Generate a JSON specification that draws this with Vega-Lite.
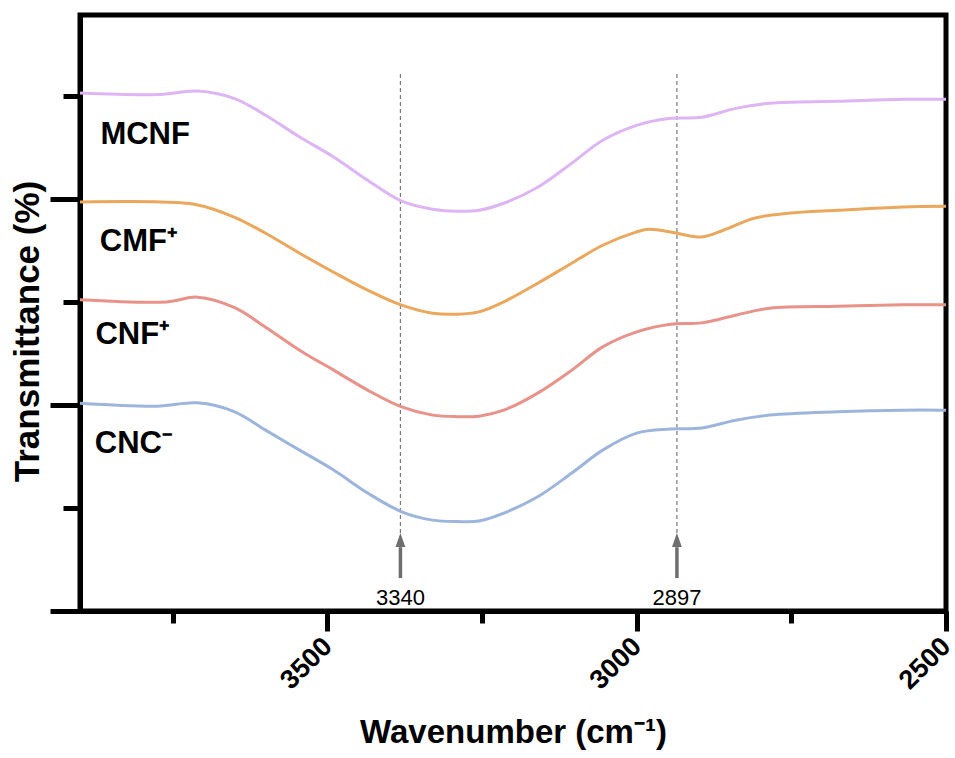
{
  "$schema": "https://vega.github.io/schema/vega-lite/v6.json",
  "width": 866,
  "height": 596,
  "autosize": {"type": "none"},
  "padding": {"left": 80, "top": 15, "right": 9, "bottom": 147},
  "background": "white",
  "config": {"font": "Liberation Sans", "view": {"stroke": "black", "strokeWidth": 5}},
  "datasets": {
    "spectra": [
      {"sample": "MCNF", "wn": 3900, "val": 5.032}, {"sample": "MCNF", "wn": 3775, "val": 5.017}, {"sample": "MCNF", "wn": 3710, "val": 5.051}, {"sample": "MCNF", "wn": 3650, "val": 4.978}, {"sample": "MCNF", "wn": 3600, "val": 4.816}, {"sample": "MCNF", "wn": 3545, "val": 4.605}, {"sample": "MCNF", "wn": 3490, "val": 4.411}, {"sample": "MCNF", "wn": 3435, "val": 4.184}, {"sample": "MCNF", "wn": 3380, "val": 3.981}, {"sample": "MCNF", "wn": 3330, "val": 3.903}, {"sample": "MCNF", "wn": 3290, "val": 3.883}, {"sample": "MCNF", "wn": 3255, "val": 3.893}, {"sample": "MCNF", "wn": 3215, "val": 3.961}, {"sample": "MCNF", "wn": 3160, "val": 4.117}, {"sample": "MCNF", "wn": 3105, "val": 4.35}, {"sample": "MCNF", "wn": 3055, "val": 4.573}, {"sample": "MCNF", "wn": 3000, "val": 4.718}, {"sample": "MCNF", "wn": 2945, "val": 4.786}, {"sample": "MCNF", "wn": 2895, "val": 4.796}, {"sample": "MCNF", "wn": 2840, "val": 4.883}, {"sample": "MCNF", "wn": 2785, "val": 4.932}, {"sample": "MCNF", "wn": 2675, "val": 4.951}, {"sample": "MCNF", "wn": 2570, "val": 4.971}, {"sample": "MCNF", "wn": 2500, "val": 4.971},
      {"sample": "CMF+", "wn": 3900, "val": 3.974}, {"sample": "CMF+", "wn": 3770, "val": 3.974}, {"sample": "CMF+", "wn": 3715, "val": 3.951}, {"sample": "CMF+", "wn": 3650, "val": 3.825}, {"sample": "CMF+", "wn": 3600, "val": 3.67}, {"sample": "CMF+", "wn": 3545, "val": 3.476}, {"sample": "CMF+", "wn": 3490, "val": 3.291}, {"sample": "CMF+", "wn": 3435, "val": 3.117}, {"sample": "CMF+", "wn": 3380, "val": 2.971}, {"sample": "CMF+", "wn": 3330, "val": 2.893}, {"sample": "CMF+", "wn": 3290, "val": 2.883}, {"sample": "CMF+", "wn": 3255, "val": 2.906}, {"sample": "CMF+", "wn": 3215, "val": 3.003}, {"sample": "CMF+", "wn": 3160, "val": 3.184}, {"sample": "CMF+", "wn": 3105, "val": 3.379}, {"sample": "CMF+", "wn": 3055, "val": 3.553}, {"sample": "CMF+", "wn": 3000, "val": 3.683}, {"sample": "CMF+", "wn": 2980, "val": 3.709}, {"sample": "CMF+", "wn": 2935, "val": 3.67}, {"sample": "CMF+", "wn": 2895, "val": 3.634}, {"sample": "CMF+", "wn": 2860, "val": 3.699}, {"sample": "CMF+", "wn": 2810, "val": 3.816}, {"sample": "CMF+", "wn": 2755, "val": 3.864}, {"sample": "CMF+", "wn": 2675, "val": 3.893}, {"sample": "CMF+", "wn": 2570, "val": 3.925}, {"sample": "CMF+", "wn": 2500, "val": 3.932},
      {"sample": "CNF+", "wn": 3900, "val": 3.024}, {"sample": "CNF+", "wn": 3760, "val": 3.003}, {"sample": "CNF+", "wn": 3710, "val": 3.049}, {"sample": "CNF+", "wn": 3650, "val": 2.947}, {"sample": "CNF+", "wn": 3600, "val": 2.757}, {"sample": "CNF+", "wn": 3545, "val": 2.534}, {"sample": "CNF+", "wn": 3490, "val": 2.34}, {"sample": "CNF+", "wn": 3435, "val": 2.146}, {"sample": "CNF+", "wn": 3380, "val": 1.983}, {"sample": "CNF+", "wn": 3330, "val": 1.903}, {"sample": "CNF+", "wn": 3290, "val": 1.888}, {"sample": "CNF+", "wn": 3255, "val": 1.893}, {"sample": "CNF+", "wn": 3215, "val": 1.951}, {"sample": "CNF+", "wn": 3160, "val": 2.117}, {"sample": "CNF+", "wn": 3105, "val": 2.34}, {"sample": "CNF+", "wn": 3055, "val": 2.566}, {"sample": "CNF+", "wn": 3000, "val": 2.712}, {"sample": "CNF+", "wn": 2945, "val": 2.786}, {"sample": "CNF+", "wn": 2895, "val": 2.799}, {"sample": "CNF+", "wn": 2840, "val": 2.874}, {"sample": "CNF+", "wn": 2785, "val": 2.942}, {"sample": "CNF+", "wn": 2675, "val": 2.961}, {"sample": "CNF+", "wn": 2570, "val": 2.974}, {"sample": "CNF+", "wn": 2500, "val": 2.974},
      {"sample": "CNC-", "wn": 3900, "val": 2.019}, {"sample": "CNC-", "wn": 3775, "val": 1.99}, {"sample": "CNC-", "wn": 3710, "val": 2.022}, {"sample": "CNC-", "wn": 3650, "val": 1.935}, {"sample": "CNC-", "wn": 3600, "val": 1.757}, {"sample": "CNC-", "wn": 3545, "val": 1.563}, {"sample": "CNC-", "wn": 3490, "val": 1.369}, {"sample": "CNC-", "wn": 3435, "val": 1.146}, {"sample": "CNC-", "wn": 3380, "val": 0.964}, {"sample": "CNC-", "wn": 3330, "val": 0.883}, {"sample": "CNC-", "wn": 3290, "val": 0.869}, {"sample": "CNC-", "wn": 3255, "val": 0.874}, {"sample": "CNC-", "wn": 3215, "val": 0.951}, {"sample": "CNC-", "wn": 3160, "val": 1.11}, {"sample": "CNC-", "wn": 3105, "val": 1.34}, {"sample": "CNC-", "wn": 3055, "val": 1.563}, {"sample": "CNC-", "wn": 3000, "val": 1.728}, {"sample": "CNC-", "wn": 2945, "val": 1.767}, {"sample": "CNC-", "wn": 2895, "val": 1.777}, {"sample": "CNC-", "wn": 2840, "val": 1.854}, {"sample": "CNC-", "wn": 2785, "val": 1.903}, {"sample": "CNC-", "wn": 2675, "val": 1.935}, {"sample": "CNC-", "wn": 2570, "val": 1.951}, {"sample": "CNC-", "wn": 2500, "val": 1.951}
    ],
    "peaks": [
      {"wn": 3382, "label": "3340"},
      {"wn": 2935, "label": "2897"}
    ],
    "names": [
      {"text": "MCNF", "wn": 3867, "val": 4.534},
      {"text": "CMF⁺", "wn": 3868, "val": 3.498},
      {"text": "CNF⁺", "wn": 3875, "val": 2.592},
      {"text": "CNC⁻", "wn": 3876, "val": 1.531}
    ]
  },
  "layer": [
    {
      "data": {"name": "peaks"},
      "mark": {"type": "rule", "strokeDash": [4, 3], "stroke": "#7a7a7a", "strokeWidth": 1.2},
      "encoding": {
        "x": {"field": "wn", "type": "quantitative", "scale": {"domain": [2500, 3900], "reverse": true, "nice": false, "zero": false},
          "axis": {
            "values": [3750, 3500, 3250, 3000, 2750, 2500],
            "format": "d",
            "labelExpr": "datum.value % 500 === 0 ? datum.label : ''",
            "labelAngle": -45, "labelAlign": "right", "labelBaseline": "middle",
            "labelFontSize": 27, "labelFontWeight": "bold", "labelColor": "black",
            "labelPadding": 11, "labelOverlap": false, "labelBound": false, "labelFlush": false,
            "tickSize": {"condition": {"test": "datum.value % 500 === 0", "value": 20}, "value": 12},
            "tickWidth": 5, "tickColor": "black", "domainColor": "black", "domainWidth": 5, "grid": false,
            "title": "Wavenumber (cm⁻¹)", "titleFontSize": 33, "titleFontWeight": "bold", "titleColor": "black",
            "titleY": 131, "titleBaseline": "alphabetic"
          }},
        "y": {"datum": 0.757, "type": "quantitative", "scale": {"domain": [0, 5.79], "nice": false, "zero": false},
          "axis": {
            "values": [0, 1, 2, 3, 4, 5], "labels": false,
            "tickSize": {"condition": {"test": "datum.value % 2 === 0", "value": 30}, "value": 17},
            "tickWidth": 5, "tickColor": "black", "domainColor": "black", "domainWidth": 5, "grid": false,
            "title": "Transmittance (%)", "titleFontSize": 35, "titleFontWeight": "bold", "titleColor": "black",
            "titleX": -53, "titleY": 316, "titleBaseline": "middle"
          }},
        "y2": {"datum": 5.23}
      }
    },
    {
      "data": {"name": "spectra"},
      "mark": {"type": "line", "strokeWidth": 3, "interpolate": "catmull-rom"},
      "encoding": {
        "x": {"field": "wn", "type": "quantitative"},
        "y": {"field": "val", "type": "quantitative"},
        "color": {"field": "sample", "type": "nominal", "legend": null,
          "scale": {"domain": ["MCNF", "CMF+", "CNF+", "CNC-"], "range": ["#DDB5F5", "#EBA75C", "#E8928A", "#9DB5DC"]}}
      }
    },
    {
      "data": {"name": "peaks"},
      "mark": {"type": "rule", "stroke": "#6e6e6e", "strokeWidth": 3.5},
      "encoding": {
        "x": {"field": "wn", "type": "quantitative"},
        "y": {"datum": 0.32, "type": "quantitative"},
        "y2": {"datum": 0.62}
      }
    },
    {
      "data": {"name": "peaks"},
      "mark": {"type": "point", "shape": "M-0.7,1L0,-1L0.7,1Z", "filled": true, "size": 196, "color": "#6e6e6e", "opacity": 1},
      "encoding": {
        "x": {"field": "wn", "type": "quantitative"},
        "y": {"datum": 0.69, "type": "quantitative"}
      }
    },
    {
      "data": {"name": "peaks"},
      "mark": {"type": "text", "fontSize": 22, "color": "black", "align": "center", "baseline": "alphabetic"},
      "encoding": {
        "x": {"field": "wn", "type": "quantitative"},
        "y": {"datum": 0.058, "type": "quantitative"},
        "text": {"field": "label"}
      }
    },
    {
      "data": {"name": "names"},
      "mark": {"type": "text", "fontSize": 31, "fontWeight": "bold", "color": "black", "align": "left", "baseline": "alphabetic"},
      "encoding": {
        "x": {"field": "wn", "type": "quantitative"},
        "y": {"field": "val", "type": "quantitative"},
        "text": {"field": "text"}
      }
    }
  ]
}
